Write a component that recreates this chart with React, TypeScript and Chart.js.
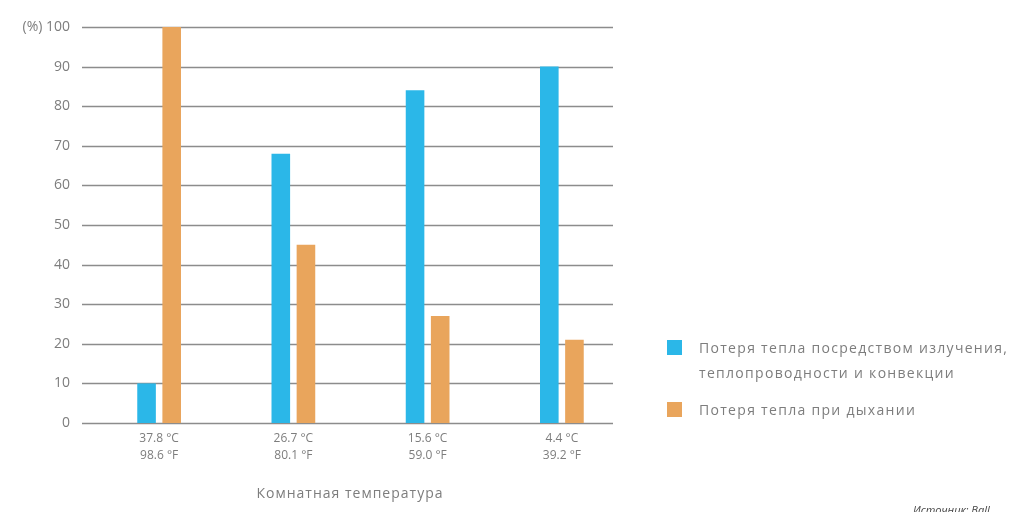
import React, { useEffect, useRef } from "react";
import { Chart, registerables } from "chart.js";

Chart.register(...registerables);

const tempsC = ["37.8 °C", "26.7 °C", "15.6 °C", "4.4 °C"];
const tempsF = ["98.6 °F", "80.1 °F", "59.0 °F", "39.2 °F"];
const radiationLoss = [10, 68, 84, 90];
const breathingLoss = [100, 45, 27, 21];
const seriesNames = [
  "Потеря тепла посредством излучения, теплопроводности и конвекции",
  "Потеря тепла при дыхании",
];
const xTitle = "Комнатная температура";
const sourceText = "Источник: Ball";

const BLUE = "#2bb7e8";
const ORANGE = "#e9a55c";
const TEXT = "#7d7d7d";
const FONT = "'Open Sans', 'DejaVu Sans', sans-serif";

export default function App() {
  const ref = useRef<HTMLCanvasElement | null>(null);

  useEffect(() => {
    document.body.style.margin = "0";
    const canvas = ref.current!;
    const gridPlugin = {
      id: "customGrid",
      beforeDatasetsDraw(chart: any) {
        const { ctx, chartArea, scales } = chart;
        const y = scales.y;
        ctx.save();
        ctx.strokeStyle = "#8c8c8c";
        ctx.lineWidth = 1.5;
        for (let v = 0; v <= 100; v += 10) {
          const py = Math.round(y.getPixelForValue(v)) + 0.5;
          ctx.beginPath();
          ctx.moveTo(chartArea.left - 10, py);
          ctx.lineTo(chartArea.right - 16, py);
          ctx.stroke();
        }
        ctx.restore();
      },
      afterDraw(chart: any) {
        const { ctx } = chart;
        ctx.save();
        ctx.fillStyle = TEXT;
        ctx.font = "14px " + FONT;
        (ctx as any).letterSpacing = "1px";
        ctx.textAlign = "center";
        ctx.textBaseline = "middle";
        ctx.fillText(xTitle, 350, 494);
        ctx.restore();
      },
    };

    const chart = new Chart(canvas, {
      type: "bar",
      data: {
        labels: tempsC.map((c, i) => [c, tempsF[i]]),
        datasets: [
          {
            label: seriesNames[0],
            data: radiationLoss,
            backgroundColor: BLUE,
            categoryPercentage: 0.3745,
            barPercentage: 0.74,
          },
          {
            label: seriesNames[1],
            data: breathingLoss,
            backgroundColor: ORANGE,
            categoryPercentage: 0.3745,
            barPercentage: 0.74,
          },
        ],
      },
      plugins: [gridPlugin],
      options: {
        animation: false,
        responsive: false,
        maintainAspectRatio: false,
        layout: { padding: { left: 0, right: 1027 - 629, top: 27, bottom: 0 } },
        plugins: {
          legend: { display: false },
          tooltip: { enabled: false },
          title: { display: false },
        },
        scales: {
          x: {
            grid: { display: false, drawTicks: false },
            border: { display: false },
            ticks: {
              color: TEXT,
              font: { family: FONT, size: 12, lineHeight: 1.4 },
              padding: 7,
              maxRotation: 0,
              autoSkip: false,
            },
            afterFit(scale: any) {
              scale.height = 512 - 423;
              scale.paddingLeft = 0;
              scale.paddingRight = 0;
            },
          },
          y: {
            min: 0,
            max: 100,
            grid: { display: false, drawTicks: false },
            border: { display: false },
            ticks: {
              stepSize: 10,
              color: TEXT,
              font: { family: FONT, size: 14 },
              padding: 22,
              callback: (v: any) => (v === 100 ? "(%) 100" : String(v)),
            },
            afterFit(scale: any) {
              scale.width = 92;
              scale.paddingTop = 0;
              scale.paddingBottom = 0;
            },
          },
        },
      },
    } as any);
    return () => chart.destroy();
  }, []);

  const legendText: React.CSSProperties = {
    fontFamily: FONT,
    fontSize: 14,
    letterSpacing: "1.3px",
    color: TEXT,
    lineHeight: "25px",
    whiteSpace: "nowrap",
  };

  return (
    <div style={{ position: "fixed", left: 0, top: 0, width: 1027, height: 512, background: "#fff", overflow: "hidden" }}>
      <canvas ref={ref} width={1027} height={512} style={{ position: "absolute", left: 0, top: 0 }} />
      <div style={{ position: "absolute", left: 667, top: 340, width: 15, height: 15, background: BLUE }} />
      <div style={{ ...legendText, position: "absolute", left: 699, top: 335 }}>
        Потеря тепла посредством излучения,
        <br />
        теплопроводности и конвекции
      </div>
      <div style={{ position: "absolute", left: 667, top: 402, width: 15, height: 15, background: ORANGE }} />
      <div style={{ ...legendText, position: "absolute", left: 699, top: 397 }}>{seriesNames[1]}</div>
      <div
        style={{
          position: "absolute",
          left: 913,
          top: 502,
          fontFamily: FONT,
          fontSize: 11,
          fontStyle: "italic",
          color: "#444",
          whiteSpace: "nowrap",
        }}
      >
        {sourceText}
      </div>
    </div>
  );
}
